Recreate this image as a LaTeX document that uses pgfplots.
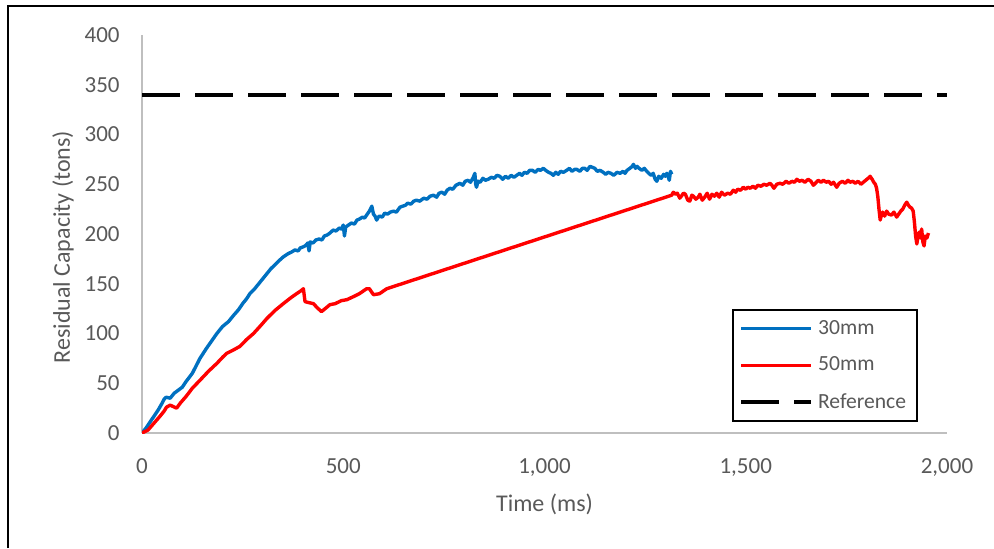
\documentclass[border=0pt]{standalone}
\usepackage{fontspec}
\setmainfont{Carlito}
\usepackage{pgfplots}
\pgfplotsset{compat=1.18}
\definecolor{blueS}{RGB}{0,112,192}
\definecolor{redS}{RGB}{255,0,0}
\definecolor{txt}{RGB}{89,89,89}
\definecolor{axl}{RGB}{191,191,191}
\begin{document}
\begin{tikzpicture}
\useasboundingbox (0,0) rectangle (497pt,274pt);
\draw[black, line width=1.3pt] (4pt,0pt) -- (4pt,271pt) -- (497pt,271pt);
\begin{axis}[
  at={(71pt,57.5pt)}, anchor=south west,
  scale only axis, width=402.5pt, height=199pt,
  xmin=0, xmax=2000, ymin=0, ymax=400,
  axis x line=bottom, axis y line=left,
  axis line style={-, draw=axl, line width=0.9pt},
  xtick={0,500,1000,1500,2000},
  ytick={0,50,...,400},
  major tick length=0pt,
  scaled x ticks=false,
  /pgf/number format/assume math mode=true,
  /pgf/number format/1000 sep={,},
  tick label style={font=\fontsize{11.5}{13}\selectfont, text=txt, inner sep=0pt},
  yticklabel style={anchor=east, xshift=-11pt},
  xticklabel style={anchor=north, yshift=-12.5pt},
  xlabel={Time (ms)},
  ylabel={Residual Capacity (tons)},
  label style={font=\fontsize{12}{14}\selectfont, text=txt},
  xlabel style={at={(axis description cs:0.5,0)}, anchor=center, yshift=-35.5pt},
  ylabel style={at={(axis description cs:-0.098,0.467)}, anchor=center},
  legend image code/.code={\draw[#1] (0pt,0pt) -- (35pt,0pt);},
  legend cell align=left,
  legend style={at={(rel axis cs:0.964,0.0276)}, anchor=south east,
    draw=black, line width=1pt, font=\fontsize{10.8}{12}\selectfont, text=txt,
    inner xsep=3pt, inner ysep=3pt, row sep=5.75pt,
    nodes={inner xsep=2.5pt}},
]
\addplot[blueS, line width=1.7pt, line join=round] coordinates {
(0,0) (10,5) (20,11) (30,17) (40,23) (50,30) (55,34) (60,36) (70,35) (80,40)
(90,43) (100,46) (110,52) (125,60) (144,75) (160,85) (186,100) (200,107)
(215,112) (227,118) (240,124) (250,130) (260,135) (268,140) (280,145) (290,150)
(300,155) (310,160) (320,165) (330,169) (340,173) (351,177) (362,180)
(372,182) (380,184) (388,183) (393,186) (400,187) (405,188) (410,190) (412,191) (415,183) (418,192) (425,191) (432,194) (440,195) (447,194) (453,198) (460,199) (467,201) (475,204) (482,203) (490,206) (496,205) (500,209) (503,198) (506,207) (513,209) (520,211) (528,210) (534,214) (540,215) (548,217) (553,216) (558,219) (565,223) (571,228) (575,220) (579,218) (583,214) (587,217) (590,218) (597,217) (603,221) (610,220) (617,222) (625,223) (632,222) (641,227) (648,228) (655,229) (660,231) (668,230) (675,233) (682,234) (690,233) (700,236) (708,235) (716,238) (724,239) (732,237) (738,241) (745,242) (752,240) (758,244) (765,246) (772,245) (780,249) (790,251) (797,249) (803,253) (810,254) (816,252) (822,256) (827,261) (829,250) (831,247) (835,253) (840,252) (847,256) (853,254) (860,255) (868,257) (875,256) (882,259) (889,258) (896,255) (903,258) (910,256) (917,259) (924,257) (931,259) (938,261) (944,259) (950,262) (957,261) (963,264) (970,264) (977,262) (984,265) (990,264) (997,266) (1003,264) (1010,262) (1016,261) (1022,259) (1028,262) (1034,260) (1040,263) (1047,262) (1055,264) (1062,266) (1068,263) (1075,265) (1080,265) (1088,263) (1094,266) (1100,266) (1106,264) (1113,268) (1119,267) (1125,266) (1131,263) (1138,264) (1146,262) (1152,260) (1158,262) (1165,261) (1172,259) (1180,262) (1188,261) (1195,263) (1200,261) (1205,264) (1212,266) (1218,268) (1221,270) (1226,266) (1230,268) (1235,266) (1242,264) (1248,266) (1254,263) (1259,261) (1265,259) (1270,261) (1275,255) (1279,253) (1284,258) (1290,256) (1296,260) (1300,258) (1304,261) (1308,257) (1310,254) (1313,263) (1316,260)
};
\addlegendentry{30mm}
\addplot[redS, line width=1.7pt, line join=round] coordinates {
(0,0) (15,3) (30,10) (45,17) (55,22) (61,26) (70,28) (86,25) (95,30) (110,37)
(125,45) (144,53) (165,62) (186,70) (200,76) (210,80) (225,83) (243,87)
(260,94) (277,100) (295,108) (310,115) (330,123) (351,130) (370,136)
(384,140) (395,143) (401,145) (405,132) (415,131) (426,130) (435,126)
(446,122) (455,125) (467,129) (480,130) (495,133) (509,134) (525,137)
(540,140) (558,145) (565,145) (575,139) (590,140) (608,145)
(1316,239) (1320,242) (1325,240) (1330,241) (1336,236) (1340,238) (1345,241) (1350,240) (1356,234) (1361,233) (1366,239) (1370,238) (1376,235) (1382,237) (1386,240) (1392,234) (1398,237) (1404,241) (1410,235) (1416,240) (1422,238) (1428,241) (1434,237) (1440,242) (1447,239) (1455,241) (1462,240) (1469,244) (1475,242) (1480,245) (1487,244) (1494,247) (1500,245) (1505,247) (1511,246) (1518,248) (1524,246) (1530,249) (1538,248) (1545,250) (1552,249) (1560,251) (1565,249) (1570,246) (1577,250) (1585,251) (1592,250) (1600,253) (1607,251) (1615,253) (1621,252) (1627,255) (1633,253) (1640,254) (1647,252) (1655,255) (1662,253) (1668,249) (1673,251) (1680,254) (1687,252) (1693,254) (1700,252) (1706,253) (1712,250) (1718,252) (1726,247) (1732,251) (1740,253) (1747,251) (1754,254) (1759,252) (1766,253) (1772,251) (1779,253) (1786,250) (1792,252) (1798,254) (1804,256) (1809,258) (1814,255) (1818,252) (1822,250) (1825,246) (1828,238) (1831,225) (1834,214) (1837,219) (1840,222) (1845,218) (1850,223) (1855,220) (1862,219) (1868,222) (1875,217) (1880,220) (1885,223) (1890,225) (1895,229) (1900,232) (1904,229) (1908,227) (1912,226) (1916,223) (1919,212) (1922,198) (1925,190) (1928,198) (1931,202) (1934,196) (1937,205) (1940,192) (1943,188) (1946,198) (1950,196) (1954,201)
};
\addlegendentry{50mm}
\addplot[black, line width=2pt, dash pattern=on 19pt off 7.5pt] coordinates {(0,340) (2000,340)};
\addlegendentry{Reference}
\end{axis}
\end{tikzpicture}
\end{document}
